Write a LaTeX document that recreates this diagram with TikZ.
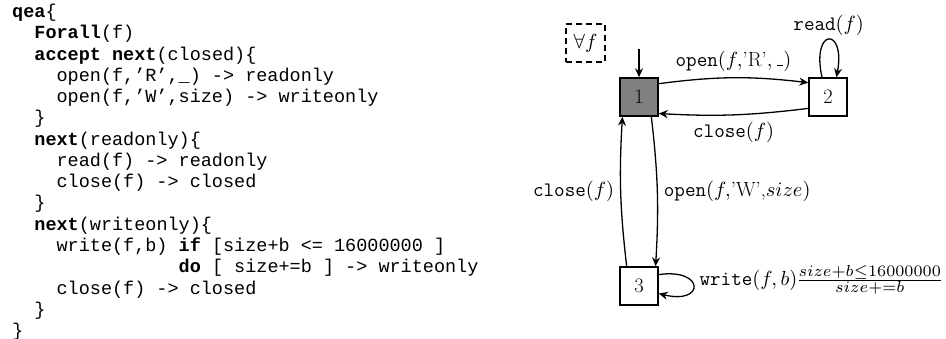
\documentclass[tikz,border=0pt]{standalone}
\usepackage{fontspec}
\newfontfamily\codefont{Liberation Mono}
\usetikzlibrary{arrows.meta}
\DeclareFontShape{OT1}{cmr}{m}{n}{<-19> cmr7 <19-> cmr10}{}
\DeclareFontShape{OML}{cmm}{m}{it}{<-19> cmmi7 <19-> cmmi10}{\skewchar\font=127 }
\DeclareFontShape{OMS}{cmsy}{m}{n}{<-19> cmsy7 <19-> cmsy10}{\skewchar\font=48 }
\DeclareMathSizes{20.5}{20.5}{16}{12}
\newcommand{\lowbar}{\leavevmode\kern.06em\vbox{\hrule width.3em height .05em}}
\begin{document}
\begin{tikzpicture}[x=1pt,y=1pt,
  code/.style={font=\codefont\fontsize{18.5}{21}\selectfont, inner sep=0pt, anchor=base west},
  st/.style={draw, line width=1.5pt, minimum size=38pt, inner sep=0pt, font=\fontsize{20.5}{24}\selectfont},
  qbox/.style={draw, dashed, dash pattern=on 6pt off 4pt, line width=1.2pt, minimum width=39pt, minimum height=38pt, inner sep=0pt, font=\fontsize{20.5}{24}\selectfont},
  edge/.style={line width=1.3pt, -{Stealth[length=9pt,width=8pt,inset=3pt]}},
  lab/.style={font=\fontsize{20.5}{24}\selectfont, inner sep=6pt}]
\useasboundingbox (0,0) rectangle (946,339);
% code listing
\def\cw{11.1}
\node[code] (c1) at (12,321.5) {\textbf{qea}\{};
\node[code] (c2) at (12+2*\cw,321.5-1*21.27) {\textbf{Forall}(f)};
\node[code] (c3) at (12+2*\cw,321.5-2*21.27) {\textbf{accept next}(closed)\{};
\node[code] (c4) at (12+4*\cw,321.5-3*21.27) {open(f,’R’,\_) -> readonly};
\node[code] (c5) at (12+4*\cw,321.5-4*21.27) {open(f,’W’,size) -> writeonly};
\node[code] (c6) at (12+2*\cw,321.5-5*21.27) {\}};
\node[code] (c7) at (12+2*\cw,321.5-6*21.27) {\textbf{next}(readonly)\{};
\node[code] (c8) at (12+4*\cw,321.5-7*21.27) {read(f) -> readonly};
\node[code] (c9) at (12+4*\cw,321.5-8*21.27) {close(f) -> closed};
\node[code] (c10) at (12+2*\cw,321.5-9*21.27) {\}};
\node[code] (c11) at (12+2*\cw,321.5-10*21.27) {\textbf{next}(writeonly)\{};
\node[code] (c12) at (12+4*\cw,321.5-11*21.27) {write(f,b) \textbf{if} [size+b <= 16000000 ]};
\node[code] (c13) at (12+15*\cw,321.5-12*21.27) {\textbf{do} [ size+=b ] -> writeonly};
\node[code] (c14) at (12+4*\cw,321.5-13*21.27) {close(f) -> closed};
\node[code] (c15) at (12+2*\cw,321.5-14*21.27) {\}};
\node[code] (c16) at (12,321.5-15*21.27) {\}};
% automaton
\node[qbox] (fa) at (585.5,296) {$\forall f$};
\node[st, fill=gray] (n1) at (639,242) {1};
\node[st] (n2) at (828,242) {2};
\node[st] (n3) at (639,53) {3};
\coordinate (init) at (639,290);
\draw[edge] (init) -- (n1.north);
\draw[edge] (n1.34) to[bend left=7] node[lab, midway, above] (l12) {\texttt{open}$(f,$’R’$,$\,\lowbar$)$} (n2.144);
\draw[edge] (n2.210) to[bend left=5] node[lab, midway, below, yshift=-1pt] (l21) {\texttt{close}$(f)$} (n1.320);
\draw[edge] (n2.107) .. controls (811,312) and (846,312) .. node[lab, pos=0.5, above, inner sep=3pt] (l22) {\texttt{read}$(f)$} (n2.67);
\draw[edge] (n1.302) to[bend left=5] node[lab, midway, right] (l13) {\texttt{open}$(f,$’W’,$size)$} (n3.50);
\draw[edge] (n3.122) to[bend left=5] node[lab, midway, left] (l31) {\texttt{close}$(f)$} (n1.230);
\draw[edge] (n3.30) .. controls (705,71) and (705,34) .. node[lab, pos=0.5, right, yshift=6pt, inner sep=5.5pt] (l33) {\texttt{write}$(f,b)\frac{size+b\leq 16000000}{size+=b}$} (n3.-21);
\end{tikzpicture}
\end{document}
